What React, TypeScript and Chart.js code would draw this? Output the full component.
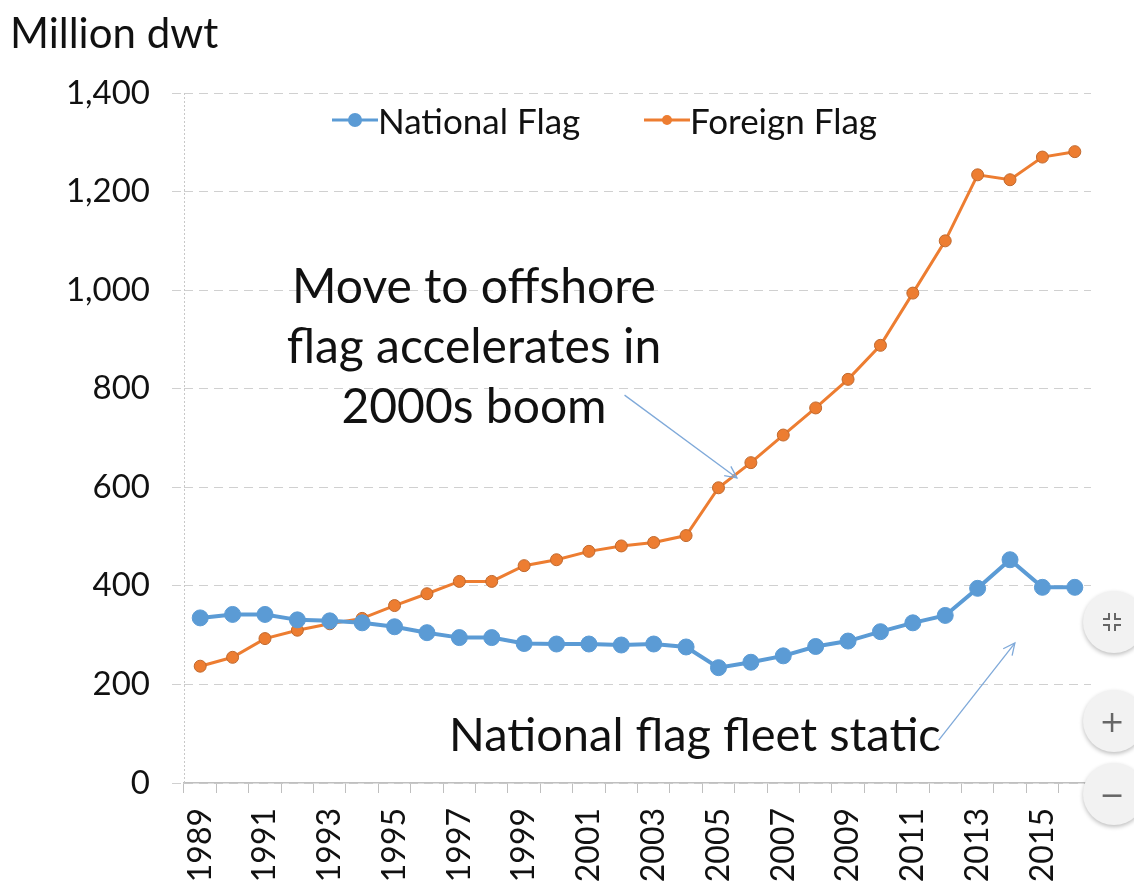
import React, { useEffect, useRef } from "react";
import { Chart, registerables } from "chart.js";

Chart.register(...registerables);

const years: string[] = [
  "1989", "1990", "1991", "1992", "1993", "1994", "1995", "1996", "1997", "1998",
  "1999", "2000", "2001", "2002", "2003", "2004", "2005", "2006", "2007", "2008",
  "2009", "2010", "2011", "2012", "2013", "2014", "2015", "2016",
];

const nationalFlag: number[] = [
  335, 342, 342, 331, 329, 325, 317, 305, 295, 295, 283, 282, 282, 280, 282, 276,
  234, 245, 258, 277, 288, 307, 325, 340, 395, 453, 397, 397,
];

const foreignFlag: number[] = [
  237, 255, 293, 310, 323, 334, 360, 384, 409, 409, 441, 453, 470, 481, 488, 502,
  599, 650, 706, 761, 819, 888, 994, 1100, 1234, 1224, 1270, 1281,
];

const yTicks: number[] = [0, 200, 400, 600, 800, 1000, 1200, 1400];

// annotation arrows: [fromIndex, fromValue, toIndex, toValue]
const arrowBoom: number[] = [13.1, 787, 16.57, 619];
const arrowStatic: number[] = [22.8, 87, 25.15, 284];

const BLUE = "#5B9BD5";
const ORANGE = "#ED7D31";
const FONT = "Lato, 'Open Sans', sans-serif";

const overlayPlugin = {
  id: "overlay",
  afterDatasetsDraw(chart: any) {
    const { ctx, chartArea, scales } = chart;
    const x = scales.x;
    const y = scales.y;
    ctx.save();
    ctx.strokeStyle = "#c8c8c8";
    ctx.lineWidth = 1;
    ctx.setLineDash([2, 2]);
    ctx.beginPath();
    ctx.moveTo(chartArea.left + 0.5, chartArea.top);
    ctx.lineTo(chartArea.left + 0.5, chartArea.bottom);
    ctx.stroke();
    ctx.setLineDash([]);
    const drawArrow = (a: number[]) => {
      const x1 = x.getPixelForValue(a[0]);
      const y1 = y.getPixelForValue(a[1]);
      const x2 = x.getPixelForValue(a[2]);
      const y2 = y.getPixelForValue(a[3]);
      ctx.strokeStyle = "#7FA9D9";
      ctx.lineWidth = 1.3;
      ctx.beginPath();
      ctx.moveTo(x1, y1);
      ctx.lineTo(x2, y2);
      ctx.stroke();
      const ang = Math.atan2(y2 - y1, x2 - x1);
      const L = 13;
      const spread = 0.45;
      ctx.beginPath();
      ctx.moveTo(x2 - L * Math.cos(ang - spread), y2 - L * Math.sin(ang - spread));
      ctx.lineTo(x2, y2);
      ctx.lineTo(x2 - L * Math.cos(ang + spread), y2 - L * Math.sin(ang + spread));
      ctx.stroke();
    };
    drawArrow(arrowBoom);
    drawArrow(arrowStatic);
    ctx.restore();
  },
};

function LegendItem({ color, r, label, left }: { color: string; r: number; label: string; left: number }) {
  return (
    <div style={{ position: "absolute", left, top: 100, height: 40, display: "flex", alignItems: "center", whiteSpace: "nowrap" }}>
      <svg width={46} height={40} style={{ display: "block" }}>
        <line x1={0} y1={20} x2={46} y2={20} stroke={color} strokeWidth={3} />
        <circle cx={23} cy={20} r={r} fill={color} />
      </svg>
      <span style={{ fontFamily: FONT, fontSize: 35, color: "#111", marginLeft: 0, lineHeight: "40px" }}>{label}</span>
    </div>
  );
}

function ZoomButton({ top, children }: { top: number; children: React.ReactNode }) {
  return (
    <div
      style={{
        position: "absolute",
        left: 1083,
        top,
        width: 62,
        height: 62,
        borderRadius: "50%",
        background: "#f2f2f2",
        boxShadow: "0 2px 4px rgba(0,0,0,0.25)",
        display: "flex",
        alignItems: "center",
        justifyContent: "center",
        color: "#666",
        fontFamily: "'DejaVu Sans', sans-serif",
        fontSize: 30,
      }}
    >
      <div style={{ marginRight: 4, display: "flex" }}>{children}</div>
    </div>
  );
}

export default function App() {
  const canvasRef = useRef<HTMLCanvasElement | null>(null);

  useEffect(() => {
    if (!canvasRef.current) return;
    const chart = new Chart(canvasRef.current, {
      type: "line",
      data: {
        labels: years,
        datasets: [
          {
            label: "National Flag",
            data: nationalFlag,
            borderColor: BLUE,
            backgroundColor: BLUE,
            pointBackgroundColor: BLUE,
            pointBorderColor: BLUE,
            borderWidth: 4,
            pointRadius: 8,
            pointBorderWidth: 1,
            tension: 0,
          },
          {
            label: "Foreign Flag",
            data: foreignFlag,
            borderColor: ORANGE,
            backgroundColor: ORANGE,
            pointBackgroundColor: ORANGE,
            pointBorderColor: "#C0692E",
            borderWidth: 3,
            pointRadius: 6,
            pointBorderWidth: 1,
            tension: 0,
          },
        ],
      },
      options: {
        animation: false,
        responsive: true,
        maintainAspectRatio: false,
        layout: { padding: { top: 93, right: 43, left: 0, bottom: 0 } },
        plugins: {
          legend: { display: false },
          title: { display: false },
          tooltip: { enabled: false },
        },
        scales: {
          x: {
            type: "category",
            offset: true,
            grid: {
              offset: true,
              drawOnChartArea: false,
              drawTicks: true,
              tickLength: 10,
              color: "#bfbfbf",
              lineWidth: 1,
            },
            border: { display: true, color: "#bfbfbf", width: 1.5 },
            ticks: {
              autoSkip: false,
              minRotation: 90,
              maxRotation: 90,
              padding: 15,
              color: "#111",
              font: { family: FONT, size: 32 },
              callback: (_v: any, i: number) => (i % 2 === 0 ? years[i] : ""),
            },
            afterFit: (scale: any) => {
              scale.height = 107;
            },
          },
          y: {
            min: 0,
            max: 1400,
            afterBuildTicks: (scale: any) => {
              scale.ticks = yTicks.map((v) => ({ value: v }));
            },
            grid: {
              color: "#d0d0d0",
              lineWidth: 1,
              drawTicks: true,
              tickLength: 12,
              tickBorderDash: [9, 6],
            },
            border: { display: false, dash: [9, 6] },
            ticks: {
              padding: 22,
              color: "#111",
              font: { family: FONT, size: 33 },
              callback: (v: any) => Number(v).toLocaleString("en-US"),
            },
            afterFit: (scale: any) => {
              scale.width = 184;
            },
          },
        },
      },
      plugins: [overlayPlugin],
    });
    return () => chart.destroy();
  }, []);

  const annoStyle: React.CSSProperties = {
    position: "absolute",
    fontFamily: FONT,
    color: "#111",
    whiteSpace: "nowrap",
  };

  return (
    <div style={{ position: "absolute", left: 0, top: 0, width: 1134, height: 890, background: "#fff", overflow: "hidden" }}>
      <div style={{ position: "absolute", left: 0, top: 0, width: 1134, height: 890 }}>
        <canvas ref={canvasRef} />
      </div>
      <div style={{ ...annoStyle, left: 10, top: 7, fontSize: 42, lineHeight: "50px" }}>Million dwt</div>
      <LegendItem color={BLUE} r={7} label="National Flag" left={332} />
      <LegendItem color={ORANGE} r={5} label="Foreign Flag" left={644} />
      <div
        style={{
          ...annoStyle,
          left: 254,
          top: 255,
          width: 440,
          textAlign: "center",
          fontSize: 48,
          lineHeight: "60px",
        }}
      >
        Move to offshore
        <br />
        flag accelerates in
        <br />
        2000s boom
      </div>
      <div style={{ ...annoStyle, left: 449, top: 703, fontSize: 47, lineHeight: "60px" }}>National flag fleet static</div>
      <ZoomButton top={591}>
        <svg width={22} height={22} viewBox="0 0 22 22">
          <path d="M8 2 V8 H2 M14 2 V8 H20 M8 20 V14 H2 M14 20 V14 H20" fill="none" stroke="#666" strokeWidth={2} />
        </svg>
      </ZoomButton>
      <ZoomButton top={690}>+</ZoomButton>
      <ZoomButton top={763}>−</ZoomButton>
    </div>
  );
}
